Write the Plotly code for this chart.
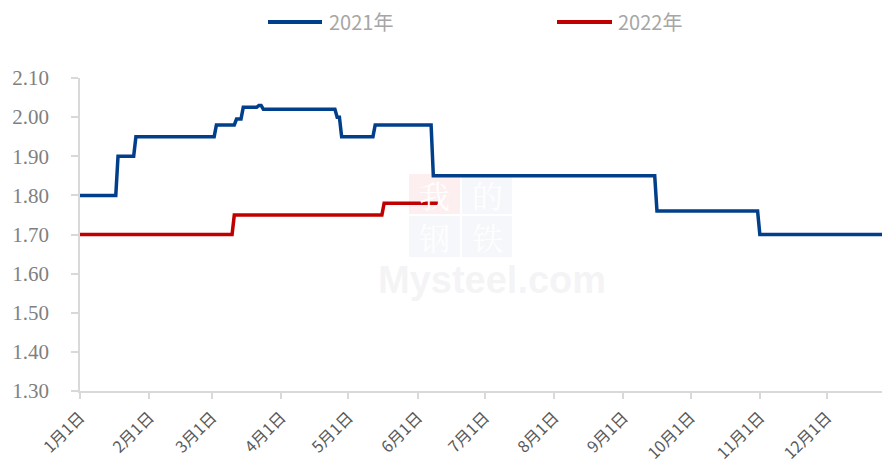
import plotly.graph_objects as go

# ---- data ----
dates_2021 = ["01-01", "01-17", "01-18", "01-25", "01-26", "03-02", "03-03", "03-11", "03-12",
              "03-14", "03-15", "03-21", "03-22", "03-23", "03-24", "04-25", "04-26", "04-27",
              "04-28", "05-12", "05-13", "06-07", "06-08", "09-15", "09-16", "10-31", "11-01", "12-31"]
values_2021 = [1.80, 1.80, 1.90, 1.90, 1.95, 1.95, 1.98, 1.98, 1.995,
               1.995, 2.025, 2.025, 2.03, 2.03, 2.02, 2.02, 2.00, 2.00,
               1.95, 1.95, 1.98, 1.98, 1.85, 1.85, 1.76, 1.76, 1.70, 1.70]

dates_2022 = ["01-01", "03-10", "03-11", "05-16", "05-17", "06-10"]
values_2022 = [1.70, 1.70, 1.75, 1.75, 1.78, 1.78]

tick_months = ["01-01", "02-01", "03-01", "04-01", "05-01", "06-01",
               "07-01", "08-01", "09-01", "10-01", "11-01", "12-01"]
tick_labels = ["1月1日", "2月1日", "3月1日", "4月1日", "5月1日", "6月1日",
               "7月1日", "8月1日", "9月1日", "10月1日", "11月1日", "12月1日"]
series_names = ["2021年", "2022年"]
colors = ["#023f8b", "#c00000"]

BASE_YEAR = "2021-"


def to_dt(md):
    return BASE_YEAR + md


fig = go.Figure()
fig.add_trace(go.Scatter(x=[to_dt(d) for d in dates_2021], y=values_2021, mode="lines",
                         name=series_names[0], line=dict(color=colors[0], width=3.5),
                         showlegend=False))
fig.add_trace(go.Scatter(x=[to_dt(d) for d in dates_2022], y=values_2022, mode="lines",
                         name=series_names[1], line=dict(color=colors[1], width=3.5),
                         showlegend=False))

# page body has an 8px default margin; figure is sized so that the plot area
# lands at window pixels x 80..890, y 78..391 without causing scrollbars
OFF = 8
W, H = 890 - OFF, 476 - 2 * OFF
L, R, T, B = 80, 890, 78, 391  # window pixel coordinates of plot area


def px(x):
    return (x - L) / (R - L)


def py(y):
    return (B - y) / (B - T)


shapes = []
annotations = []

# watermark squares
sq = [(409, 174, 460, 214, "rgba(235,120,120,0.12)", "我"),
      (462, 174, 512, 214, "rgba(180,190,215,0.12)", "的"),
      (409, 216, 460, 257, "rgba(180,190,215,0.12)", "钢"),
      (462, 216, 512, 257, "rgba(180,190,215,0.12)", "铁")]
for x0, y0, x1, y1, c, ch in sq:
    shapes.append(dict(type="rect", xref="paper", yref="paper", x0=px(x0), x1=px(x1),
                       y0=py(y1), y1=py(y0), fillcolor=c, line=dict(width=0), layer="below"))
    annotations.append(dict(xref="paper", yref="paper", x=px((x0 + x1) / 2), y=py((y0 + y1) / 2),
                            text=ch, showarrow=False, borderpad=0,
                            font=dict(family="Noto Serif CJK SC, Noto Sans CJK SC", size=31,
                                      color="rgba(255,255,255,0.95)")))
annotations.append(dict(xref="paper", yref="paper", x=px(492), y=py(258), yanchor="top",
                        text="<b>Mysteel.com</b>", showarrow=False, borderpad=0,
                        font=dict(family="Liberation Sans, Arial", size=38, color="rgba(228,228,232,0.4)")))

# manual legend
leg = [(268, 322, 327, series_names[0], colors[0]), (557, 612, 616, series_names[1], colors[1])]
for x0, x1, tx, name, c in leg:
    shapes.append(dict(type="line", xref="paper", yref="paper", x0=px(x0), x1=px(x1),
                       y0=py(22), y1=py(22), line=dict(color=c, width=4)))
    annotations.append(dict(xref="paper", yref="paper", x=px(tx), y=py(22), xanchor="left",
                            yanchor="middle", text=name, showarrow=False,
                            font=dict(family="Noto Sans CJK SC", size=20, color="#a6a6a6")))

fig.update_layout(
    width=W, height=H,
    margin=dict(l=L - OFF, r=(OFF + W) - R, t=T - OFF, b=(OFF + H) - B),
    plot_bgcolor="white", paper_bgcolor="white",
    shapes=shapes, annotations=annotations,
    xaxis=dict(
        range=[to_dt("01-01"), "2021-12-29 05:00"], automargin=False,
        tickvals=[to_dt(m) for m in tick_months], ticktext=tick_labels,
        tickangle=-45, showgrid=False, zeroline=False,
        showline=True, linecolor="#d9d9d9", linewidth=1.5,
        ticks="outside", ticklen=6, tickcolor="#d9d9d9", tickwidth=1.5,
        ticklabelstandoff=3,
        tickfont=dict(family="Noto Sans CJK SC", size=16, color="#595959"),
    ),
    yaxis=dict(
        range=[1.30, 2.10], dtick=0.10, tickformat=".2f", automargin=False,
        showgrid=False, zeroline=False,
        showline=True, linecolor="#d9d9d9", linewidth=1.5,
        ticks="outside", ticklen=7, tickcolor="#d9d9d9", tickwidth=1.5,
        ticklabelstandoff=18,
        tickfont=dict(family="Liberation Serif", size=21, color="#7f7f7f"),
    ),
)

fig.write_html("out.html")
